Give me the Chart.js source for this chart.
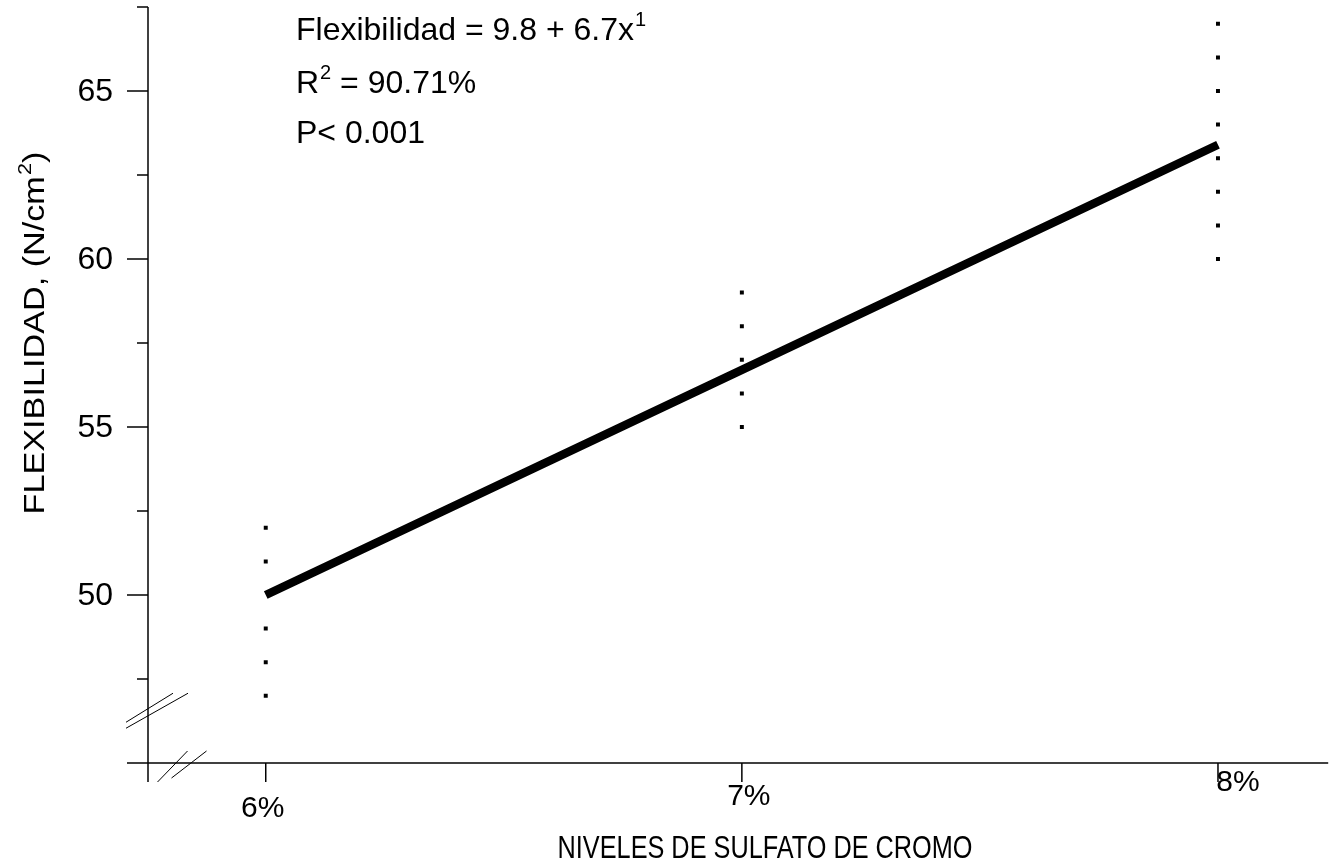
<!DOCTYPE html>
<html>
<head>
<meta charset="utf-8">
<script src="https://cdn.jsdelivr.net/npm/chart.js@4.4.0/dist/chart.umd.min.js"></script>
<style>
  html, body { margin: 0; padding: 0; background: #fff; }
</style>
</head>
<body>
<canvas id="myChart" width="1331" height="866"></canvas>
<script>
// niveles de sulfato de cromo (%)
const levels = [6, 7, 8];
const levelLabels = ['6%', '7%', '8%'];

// flexibilidad observada (N/cm2) en cada nivel
const obs6 = [52, 51, 49, 48, 47];
const obs7 = [59, 58, 57, 56, 55];
const obs8 = [67, 66, 65, 64, 63, 62, 61, 60];

// recta ajustada
const fitY = [50.0, 56.7, 63.4];

// eje y
const yMajor = [50, 55, 60, 65];
const yMinor = [47.5, 52.5, 57.5, 62.5, 67.5];

const FONT = "'Liberation Sans', Arial, sans-serif";

const pts = [
    ...obs6.map(v => ({ x: levels[0], y: v })),
    ...obs7.map(v => ({ x: levels[1], y: v })),
    ...obs8.map(v => ({ x: levels[2], y: v }))
];
const fitPts = levels.map((x, i) => ({ x: x, y: fitY[i] }));

function seg(ctx, x1, y1, x2, y2) {
    ctx.beginPath();
    ctx.moveTo(x1, y1);
    ctx.lineTo(x2, y2);
    ctx.stroke();
}

// texto con exponente, devuelve el ancho
function supText(ctx, parts, x, y, size) {
    let cx = x;
    parts.forEach(p => {
        if (p.sup) {
            ctx.font = Math.round(size * 0.62) + 'px ' + FONT;
            ctx.fillText(p.t, cx + 1, y - size * 0.45);
            cx += ctx.measureText(p.t).width + 1;
        } else {
            ctx.font = size + 'px ' + FONT;
            ctx.fillText(p.t, cx, y);
            cx += ctx.measureText(p.t).width;
        }
    });
    return cx - x;
}

const axesPlugin = {
    id: 'axesPlugin',
    beforeDatasetsDraw(chart) {
        const ctx = chart.ctx;
        const xs = chart.scales.x, ys = chart.scales.y;
        const x0 = xs.left, y0 = ys.bottom;
        ctx.save();
        ctx.strokeStyle = '#000';
        ctx.lineWidth = 1.5;
        // axis lines
        seg(ctx, x0, ys.top, x0, y0 + 19);
        seg(ctx, x0 - 21, y0, xs.right, y0);
        // y ticks
        yMajor.forEach(v => { const p = ys.getPixelForValue(v); seg(ctx, x0 - 21, p, x0, p); });
        yMinor.forEach(v => { const p = ys.getPixelForValue(v); seg(ctx, x0 - 11, p, x0, p); });
        // x ticks
        levels.forEach(v => { const p = xs.getPixelForValue(v); seg(ctx, p, y0, p, y0 + 19); });

        // break marks
        ctx.lineWidth = 1;
        const yb = ys.getPixelForValue(46.6);
        seg(ctx, x0 - 22, yb + 13, x0 + 25, yb - 16);
        seg(ctx, x0 - 22, yb + 19, x0 + 40, yb - 16);
        const xb = xs.getPixelForValue(5.8);
        seg(ctx, xb - 13, y0 + 19, xb + 17, y0 - 12);
        seg(ctx, xb + 1, y0 + 15, xb + 36, y0 - 12);

        // y tick labels
        ctx.fillStyle = '#000';
        ctx.font = '32px ' + FONT;
        ctx.textAlign = 'right';
        ctx.textBaseline = 'middle';
        yMajor.forEach(v => ctx.fillText(String(v), x0 - 35, ys.getPixelForValue(v) + 1));

        // x tick labels (escalonadas como en el original)
        const dx = [-3, 7, 20], dy = [46, 34, 20];
        ctx.font = '30px ' + FONT;
        ctx.textAlign = 'center';
        levels.forEach((v, i) => ctx.fillText(levelLabels[i], xs.getPixelForValue(v) + dx[i], y0 + dy[i]));

        // x title (estrecho)
        ctx.save();
        ctx.translate(765, 849);
        ctx.scale(0.79, 1);
        ctx.font = '32px ' + FONT;
        ctx.fillText('NIVELES DE SULFATO DE CROMO', 0, 0);
        ctx.restore();

        // y title
        ctx.save();
        ctx.textAlign = 'left';
        ctx.textBaseline = 'alphabetic';
        ctx.translate(44, 333);
        ctx.rotate(-Math.PI / 2);
        ctx.scale(1.14, 1);
        const yParts = [{ t: 'FLEXIBILIDAD, (N/cm' }, { t: '2', sup: true }, { t: ')' }];
        ctx.globalAlpha = 0;
        const wy = supText(ctx, yParts, 0, 0, 30);
        ctx.globalAlpha = 1;
        supText(ctx, yParts, -wy / 2, 0, 30);
        ctx.restore();

        // annotation
        ctx.textAlign = 'left';
        ctx.textBaseline = 'alphabetic';
        const ax = 296;
        supText(ctx, [{ t: 'Flexibilidad = 9.8 + 6.7x' }, { t: '1', sup: true }], ax, 40, 32);
        supText(ctx, [{ t: 'R' }, { t: '2', sup: true }, { t: ' = 90.71%' }], ax, 93, 32);
        supText(ctx, [{ t: 'P< 0.001' }], ax, 143, 32);
        ctx.restore();
    }
};

const ctx = document.getElementById('myChart').getContext('2d');
const myChart = new Chart(ctx, {
    type: 'scatter',
    data: {
        datasets: [{
            label: 'observado',
            data: pts,
            pointStyle: 'rect',
            pointRadius: 2.8,
            pointHoverRadius: 2.8,
            backgroundColor: '#000',
            borderWidth: 0,
            showLine: false
        }, {
            label: 'ajuste',
            type: 'line',
            data: fitPts,
            borderColor: '#000',
            borderWidth: 8.5,
            borderCapStyle: 'butt',
            pointRadius: 0,
            tension: 0,
            fill: false
        }]
    },
    options: {
        responsive: false,
        animation: false,
        layout: { padding: { left: 148, top: 7, right: 0, bottom: 103 } },
        plugins: { legend: { display: false }, tooltip: { enabled: false } },
        scales: {
            x: { type: 'linear', display: false, min: 5.7527, max: 8.2315 },
            y: { type: 'linear', display: false, min: 45, max: 67.5 }
        }
    },
    plugins: [axesPlugin]
});
</script>
</body>
</html>
